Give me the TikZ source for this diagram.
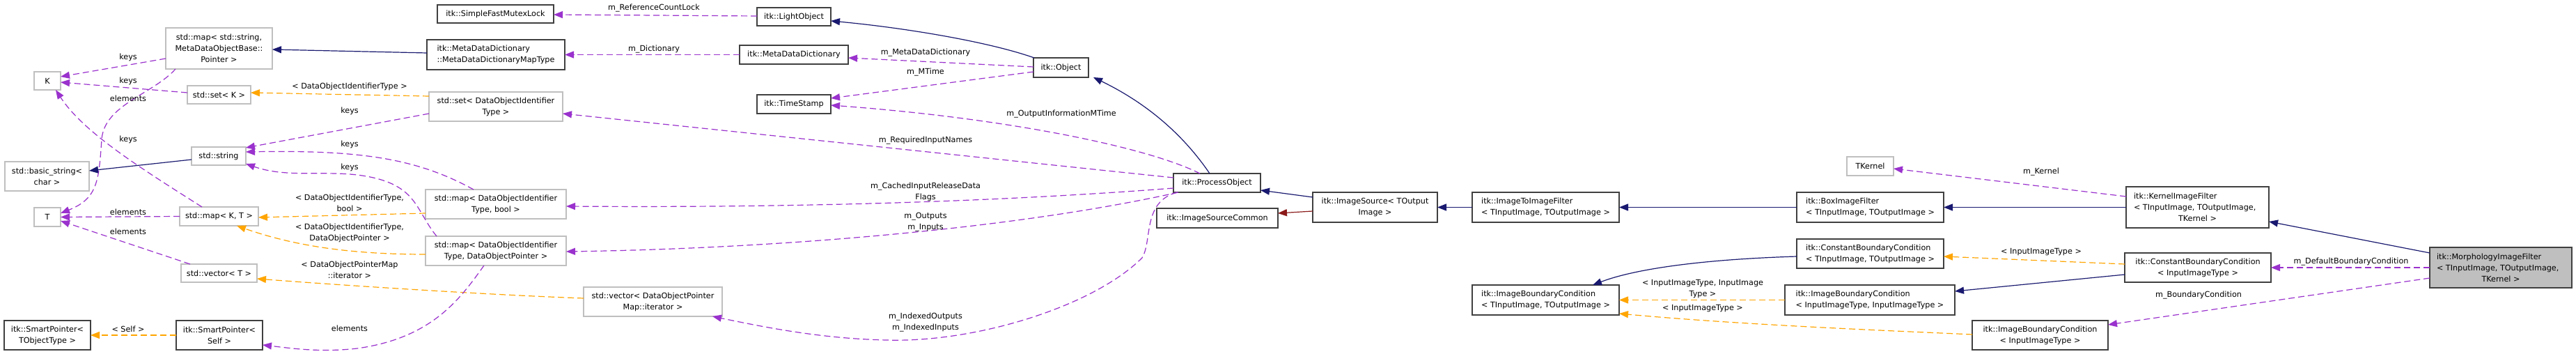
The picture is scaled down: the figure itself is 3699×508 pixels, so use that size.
\documentclass[tikz,border=0pt]{standalone}
\usepackage{fontspec}
\setmainfont{DejaVu Sans}
\usetikzlibrary{arrows.meta,calc}
\definecolor{inhc}{HTML}{191970}
\definecolor{usec}{HTML}{9A32CD}
\definecolor{tplc}{HTML}{FFA500}
\definecolor{protc}{HTML}{8B1A1A}
\definecolor{gbord}{HTML}{BFBFBF}
\definecolor{dbord}{HTML}{404040}
\definecolor{mfill}{HTML}{BFBFBF}
\newcommand{\dfont}{\fontsize{11.2pt}{16pt}\selectfont}
\begin{document}
\begin{tikzpicture}[x=1pt,y=-1pt,
  cbox/.style={draw, line width=1.3pt, outer sep=0pt, inner sep=0pt, fill=white, font=\dfont, align=center},
  gbox/.style={cbox, draw=gbord},
  dbox/.style={cbox, draw=dbord},
  lal/.style={align=left},
  lbl/.style={font=\dfont, inner sep=0pt, align=center},
  tipk/.style={-{Triangle[length=13pt,width=10pt]}},
  inh/.style={tipk, draw=inhc, line width=1.2pt},
  use/.style={tipk, draw=usec, line width=1.2pt, dash pattern=on 9pt off 5pt},
  tpl/.style={tipk, draw=tplc, line width=1.2pt, dash pattern=on 9pt off 5pt},
  prot/.style={tipk, draw=protc, line width=1.2pt},
]
\path[use as bounding box, fill=white] (0,0) rectangle (3699,508);

% ---------- nodes ----------
\node[gbox, minimum width=153pt, minimum height=59pt] (mapSM) at (314.5,69.5) {std::map< std::string,\\ MetaDataObjectBase::\\ Pointer >};
\node[gbox, minimum width=38pt, minimum height=26pt] (K) at (68,116) {K};
\node[gbox, minimum width=91pt, minimum height=26pt] (setK) at (314.5,136) {std::set< K >};
\node[gbox, minimum width=78pt, minimum height=26pt] (strg) at (314,224) {std::string};
\node[gbox, minimum width=121pt, minimum height=42pt] (bstr) at (67.5,253) {std::basic\_string<\\ char >};
\node[gbox, minimum width=38pt, minimum height=27pt] (T) at (68,311.5) {T};
\node[gbox, minimum width=113pt, minimum height=27pt] (mapKT) at (314.5,310.5) {std::map< K, T >};
\node[gbox, minimum width=109pt, minimum height=26pt] (vecT) at (314.5,392) {std::vector< T >};
\node[dbox, minimum width=124pt, minimum height=42pt] (spTO) at (68,481) {itk::SmartPointer<\\ TObjectType >};
\node[dbox, minimum width=124pt, minimum height=42pt] (spSelf) at (315,481) {itk::SmartPointer<\\ Self >};
\node[dbox, minimum width=167pt, minimum height=26pt] (mutex) at (711.5,20) {itk::SimpleFastMutexLock};
\node[dbox, lal, minimum width=198pt, minimum height=43pt] (mdmap) at (712,78.5) {itk::MetaDataDictionary\\ ::MetaDataDictionaryMapType};
\node[gbox, minimum width=192pt, minimum height=42pt] (setD) at (712,153) {std::set< DataObjectIdentifier\\ Type >};
\node[gbox, minimum width=202pt, minimum height=42pt] (mapDB) at (712,293) {std::map< DataObjectIdentifier\\ Type, bool >};
\node[gbox, minimum width=202pt, minimum height=42pt] (mapDP) at (712,360) {std::map< DataObjectIdentifier\\ Type, DataObjectPointer >};
\node[gbox, minimum width=199pt, minimum height=42pt] (vecI) at (937.5,433) {std::vector< DataObjectPointer\\ Map::iterator >};
\node[dbox, minimum width=106pt, minimum height=26pt] (light) at (1140,24) {itk::LightObject};
\node[dbox, minimum width=156pt, minimum height=27pt] (mdd) at (1140,78.5) {itk::MetaDataDictionary};
\node[dbox, minimum width=106pt, minimum height=27pt] (tstamp) at (1140,149.5) {itk::TimeStamp};
\node[dbox, minimum width=79pt, minimum height=28pt] (obj) at (1523.5,97) {itk::Object};
\node[dbox, minimum width=125pt, minimum height=27pt] (po) at (1747.5,262.5) {itk::ProcessObject};
\node[dbox, minimum width=174pt, minimum height=28pt] (isc) at (1748,313) {itk::ImageSourceCommon};
\node[dbox, minimum width=179pt, minimum height=43pt] (isrc) at (1974.5,297.5) {itk::ImageSource< TOutput\\ Image >};
\node[dbox, lal, minimum width=211pt, minimum height=43pt] (i2i) at (2219.5,297.5) {itk::ImageToImageFilter\\ < TInputImage, TOutputImage >};
\node[dbox, lal, minimum width=211pt, minimum height=43pt] (ibcTT) at (2219.5,430.5) {itk::ImageBoundaryCondition\\ < TInputImage, TOutputImage >};
\node[gbox, minimum width=67pt, minimum height=27pt] (tkern) at (2685.5,238.5) {TKernel};
\node[dbox, lal, minimum width=211pt, minimum height=43pt] (box) at (2685.5,297.5) {itk::BoxImageFilter\\ < TInputImage, TOutputImage >};
\node[dbox, lal, minimum width=211pt, minimum height=42pt] (cbcTT) at (2685.5,364) {itk::ConstantBoundaryCondition\\ < TInputImage, TOutputImage >};
\node[dbox, lal, minimum width=244pt, minimum height=43pt] (ibcII) at (2685,430.5) {itk::ImageBoundaryCondition\\ < InputImageType, InputImageType >};
\node[dbox, minimum width=195pt, minimum height=42pt] (ibcI) at (2929.5,481) {itk::ImageBoundaryCondition\\ < InputImageType >};
\node[dbox, minimum width=205pt, minimum height=59pt] (kif) at (3155.5,297.5) {\makebox[183pt][l]{itk::KernelImageFilter}\\ \makebox[183pt][l]{< TInputImage, TOutputImage,}\\ TKernel >};
\node[dbox, minimum width=210pt, minimum height=42pt] (cbcI) at (3156,384) {itk::ConstantBoundaryCondition\\ < InputImageType >};
\node[dbox, fill=mfill, minimum width=204pt, minimum height=58pt] (morph) at (3591,384) {\makebox[184pt][l]{itk::MorphologyImageFilter}\\ \makebox[184pt][l]{< TInputImage, TOutputImage,}\\ TKernel >};

% ---------- edges ----------
\draw[inh] ($(mdmap.west)+(0,-2.5)$) -- ($(mapSM.east)+(0,1.5)$);
\draw[tpl] (spSelf.west) -- (spTO.east);
\draw[use] ($(mapSM.west)+(0,14.5)$) -- ($(K.east)+(0,-6)$);
\draw[use] ($(setK.west)+(0,-3)$) -- ($(K.east)+(0,2)$);
\draw[use] ($(mapSM.south)+(-62.5,0)$) .. controls (220,135) and (150,150) .. (146,200) .. controls (142,260) and (140,285) .. ($(T.east)+(0,-5.5)$);
\draw[use] ($(mapKT.north)+(-24.5,0)$) .. controls (200,240) and (120,190) .. ($(K.south)+(12,0)$);
\draw[use] (mapKT.west) -- (T.east);
\draw[use] ($(vecT.north)+(-41.5,0)$) -- ($(T.east)+(0,5.5)$);
\draw[inh] ($(strg.west)+(0,5)$) -- ($(bstr.east)+(0,-8)$);
\draw[tpl] ($(setD.west)+(0,-15)$) -- ($(setK.east)+(0,-3)$);
\draw[use] ($(setD.west)+(0,10)$) -- ($(strg.east)+(0,-12)$);
\draw[use] ($(mapDB.north)+(-32,0)$) .. controls (600,228) and (520,215) .. ($(strg.east)+(0,-6)$);
\draw[use] ($(mapDP.north)+(-85,0)$) .. controls (595,300) and (600,262) .. (513,251) .. controls (460,245) and (410,255) .. ($(strg.east)+(0,11)$);
\draw[tpl] ($(mapDB.west)+(0,13)$) -- ($(mapKT.east)+(0,1.5)$);
\draw[tpl] ($(mapDP.west)+(0,5)$) .. controls (500,365) and (420,352) .. ($(mapKT.south)+(25.5,0)$);
\draw[tpl] ($(vecI.west)+(0,-5)$) .. controls (700,423) and (500,410) .. ($(vecT.east)+(0,8)$);
\draw[use] ($(mapDP.south)+(-17,0)$) .. controls (660,430) and (620,485) .. (513,500) .. controls (460,506) and (420,500) .. ($(spSelf.east)+(0,14)$);
\draw[use] ($(light.west)+(0,-1)$) -- ($(mutex.east)+(0,1)$);
\draw[use] (mdd.west) -- (mdmap.east);
\draw[inh] ($(obj.north)+(-38.5,0)$) .. controls (1420,60) and (1300,40) .. ($(light.east)+(0,6)$);
\draw[use] ($(obj.west)+(0,-1)$) -- ($(mdd.east)+(0,4.5)$);
\draw[use] ($(obj.west)+(0,6)$) -- ($(tstamp.east)+(0,-8.5)$);
\draw[use] ($(po.north)+(-24.5,0)$) .. controls (1650,212) and (1450,170) .. ($(tstamp.east)+(0,1.5)$);
\draw[use] ($(po.west)+(0,-7.5)$) -- ($(setD.east)+(0,10)$);
\draw[use] ($(po.west)+(0,7.5)$) .. controls (1400,292) and (1100,298) .. ($(mapDB.east)+(0,3)$);
\draw[use] ($(po.south west)+(7,0)$) .. controls (1450,330) and (1100,357) .. ($(mapDP.east)+(0,1)$);
\draw[use] ($(po.south west)+(5,0)$) .. controls (1640,290) and (1655,345) .. (1640,370) .. controls (1570,440) and (1400,492) .. (1273,488) .. controls (1180,486) and (1100,470) .. ($(vecI.south east)+(-14,0)$);
\draw[inh] ($(po.north)+(-10.5,0)$) .. controls (1690,180) and (1630,140) .. ($(obj.south)+(46.5,0)$);
\draw[inh] ($(isrc.west)+(0,-14.5)$) -- ($(po.east)+(0,10.5)$);
\draw[prot] ($(isrc.west)+(0,5.5)$) -- ($(isc.east)+(0,-7)$);
\draw[inh] (i2i.west) -- (isrc.east);
\draw[inh] (box.west) -- (i2i.east);
\draw[inh] ($(cbcTT.west)+(0,4)$) .. controls (2450,372) and (2350,385) .. ($(ibcTT.north east)+(-38,0)$);
\draw[tpl] (ibcII.west) -- (ibcTT.east);
\draw[tpl] ($(ibcI.west)+(0,-1)$) .. controls (2700,474) and (2500,466) .. ($(ibcTT.east)+(0,19.5)$);
\draw[inh] (kif.west) -- (box.east);
\draw[use] ($(kif.west)+(0,-15.5)$) -- ($(tkern.east)+(0,3.5)$);
\draw[tpl] ($(cbcI.west)+(0,-5)$) -- ($(cbcTT.east)+(0,4)$);
\draw[inh] ($(cbcI.west)+(0,10)$) -- ($(ibcII.east)+(0,-12.5)$);
\draw[inh] ($(morph.west)+(0,-21)$) -- ($(kif.east)+(0,20.5)$);
\draw[use] (morph.west) -- (cbcI.east);
\draw[use] ($(morph.west)+(0,15)$) -- ($(ibcI.east)+(0,-15)$);

% ---------- edge labels ----------
\node[lbl] (l1) at (184,82) {keys};
\node[lbl] (l2) at (184,116) {keys};
\node[lbl] (l3) at (184,141) {elements};
\node[lbl] (l4) at (184,200) {keys};
\node[lbl] (l5) at (184,304) {elements};
\node[lbl] (l6) at (184,332) {elements};
\node[lbl] (l7) at (184,472) {< Self >};
\node[lbl] (l8) at (502,124) {< DataObjectIdentifierType >};
\node[lbl] (l9) at (502,159) {keys};
\node[lbl] (l10) at (502,207) {keys};
\node[lbl] (l11) at (502,240) {keys};
\node[lbl] (l12) at (502,291.5) {< DataObjectIdentifierType,\\ bool >};
\node[lbl] (l13) at (502,334) {< DataObjectIdentifierType,\\ DataObjectPointer >};
\node[lbl] (l14) at (502,387) {< DataObjectPointerMap\\ ::iterator >};
\node[lbl] (l15) at (502,471) {elements};
\node[lbl] (l16) at (939,12) {m\_ReferenceCountLock};
\node[lbl] (l17) at (939,71) {m\_Dictionary};
\node[lbl] (l18) at (1329,76) {m\_MetaDataDictionary};
\node[lbl] (l19) at (1329,104) {m\_MTime};
\node[lbl] (l20) at (1524,164) {m\_OutputInformationMTime};
\node[lbl] (l21) at (1329,202) {m\_RequiredInputNames};
\node[lbl] (l22) at (1329,275.5) {m\_CachedInputReleaseData\\ Flags};
\node[lbl] (l23) at (1329,319) {m\_Outputs\\ m\_Inputs};
\node[lbl] (l24) at (1329,463) {m\_IndexedOutputs\\ m\_IndexedInputs};
\node[lbl] (l25) at (2445,415) {< InputImageType, InputImage\\ Type >};
\node[lbl] (l26) at (2445,443) {< InputImageType >};
\node[lbl] (l27) at (2931,247) {m\_Kernel};
\node[lbl] (l28) at (2931,362) {< InputImageType >};
\node[lbl] (l29) at (3376,376) {m\_DefaultBoundaryCondition};
\node[lbl] (l30) at (3157,424) {m\_BoundaryCondition};
\end{tikzpicture}
\end{document}
